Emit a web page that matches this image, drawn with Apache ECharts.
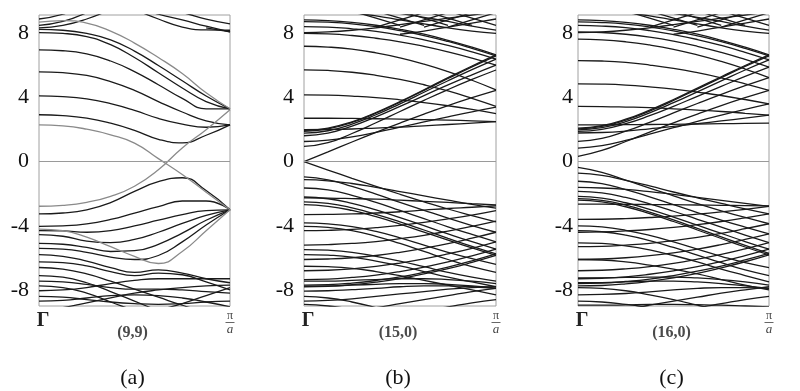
<!DOCTYPE html>
<html><head><meta charset="utf-8">
<script src="https://cdn.jsdelivr.net/npm/echarts@6/dist/echarts.min.js"></script>
<style>html,body{margin:0;padding:0;background:#fff}#c{width:800px;height:391px}</style>
</head><body><div id="c"></div>
<script>
// k points along Γ -> π/a (fraction of the zone)
const K = [0, 0.125, 0.25, 0.375, 0.5, 0.625, 0.75, 0.875, 1];
const yTicks = [-8, -4, 0, 4, 8];
const xTickText = ['Γ', 'π', 'a'];
const tubeNames = ['(9,9)', '(15,0)', '(16,0)'];
const panelTags = ['(a)', '(b)', '(c)'];

// ---- (a) armchair (9,9): energies (eV) at K ----
const a_gray = [
  [2.30, 2.24, 2.03, 1.68, 1.16, 0.19, -0.80, -1.90, -3.00],
  [-2.78, -2.72, -2.53, -2.16, -1.53, -0.50, 0.86, 2.00, 3.24],
  [8.70, 8.80, 8.65, 8.15, 7.40, 6.50, 5.50, 4.30, 3.30],
  [-4.20, -4.30, -4.70, -5.30, -5.90, -6.35, -5.60, -4.30, -3.00]
];
const a_cond = [
  [2.93, 2.88, 2.72, 2.40, 1.95, 1.40, 1.18, 1.65, 2.30],
  [4.10, 4.06, 3.92, 3.62, 3.20, 2.70, 2.35, 2.15, 2.30],
  [5.60, 5.55, 5.38, 5.00, 4.45, 3.75, 3.10, 2.55, 2.30],
  [6.97, 6.92, 6.72, 6.28, 5.62, 4.80, 3.95, 3.30, 3.30],
  [8.05, 8.00, 7.80, 7.30, 6.50, 5.55, 4.60, 3.75, 3.30],
  [8.25, 8.20, 8.00, 7.60, 6.90, 6.00, 5.05, 4.10, 3.30],
  [8.50, 8.75, 9.30, null, null, null, null, null, null],
  [8.35, 8.50, 8.90, 9.50, null, null, null, null, null],
  [8.90, 9.20, 9.80, null, null, null, null, null, null],
  [null, null, null, null, 9.70, 9.20, 8.85, 8.45, 8.10],
  [null, null, null, null, null, 9.60, 9.30, 8.90, 8.60],
  [null, null, null, null, 9.50, 8.90, 8.40, 8.22, 8.20],
  [null, null, null, null, null, null, null, 8.35, 8.10]
];
const a_val = [
  [-3.26, -3.20, -3.00, -2.55, -1.85, -1.25, -1.00, -1.80, -3.00],
  [-4.03, -4.00, -3.88, -3.60, -3.20, -2.80, -2.45, -2.45, -3.00],
  [-4.30, -4.32, -4.40, -4.30, -4.00, -3.65, -3.30, -3.05, -3.00],
  [-4.55, -4.65, -4.95, -5.05, -4.85, -4.40, -3.85, -3.35, -3.00],
  [-5.10, -5.15, -5.35, -5.60, -5.55, -5.15, -4.45, -3.65, -3.00],
  [-5.40, -5.45, -5.65, -5.95, -6.10, -5.85, -5.00, -3.95, -3.00],
  [-5.80, -5.90, -6.20, -6.60, -6.90, -6.75, -6.95, -7.30, -7.55],
  [-6.25, -6.30, -6.50, -6.85, -7.10, -6.95, -7.05, -7.50, -8.00],
  [-6.60, -6.70, -7.00, -7.45, -7.95, -8.45, -8.95, -9.40, -9.80],
  [-7.10, -7.20, -7.55, -8.10, -8.70, -9.30, -9.90, null, null],
  [-7.45, -7.50, -7.65, -7.85, -7.95, -7.95, -8.00, -8.10, -8.20],
  [-7.75, -7.85, -8.20, -8.75, -9.30, -9.90, null, null, null],
  [-8.05, -8.00, -7.85, -7.60, -7.40, -7.30, -7.30, -7.30, -7.30],
  [-8.40, -8.45, -8.60, -8.75, -8.85, -8.90, -8.85, -8.75, -8.70],
  [-8.70, -8.65, -8.50, -8.35, -8.30, -8.35, -8.50, -8.75, -9.05],
  [null, null, null, null, -9.60, -9.25, -8.85, -8.35, -7.85],
  [-9.30, -9.10, -8.80, -8.50, -8.20, -8.00, -7.85, -7.75, -7.70]
];

// ---- (b) zigzag (15,0) ----
const b_cond = [
  [0.00, 0.61, 1.23, 1.83, 2.41, 2.97, 3.50, 3.99, 4.45],
  [0.95, 1.19, 1.76, 2.43, 3.13, 3.83, 4.50, 5.13, 5.72],
  [1.26, 1.34, 1.55, 1.83, 2.15, 2.48, 2.80, 3.11, 3.40],
  [1.62, 1.78, 2.22, 2.80, 3.45, 4.12, 4.79, 5.42, 6.02],
  [1.78, 1.93, 2.35, 2.93, 3.61, 4.33, 5.05, 5.74, 6.40],
  [1.90, 2.05, 2.45, 3.03, 3.71, 4.45, 5.19, 5.91, 6.60],
  [1.95, 2.10, 2.49, 3.07, 3.75, 4.49, 5.24, 5.97, 6.66],
  [2.00, 2.01, 2.04, 2.10, 2.16, 2.24, 2.32, 2.41, 2.50],
  [2.71, 2.71, 2.70, 2.68, 2.65, 2.62, 2.59, 2.55, 2.50],
  [4.17, 4.15, 4.09, 4.00, 3.86, 3.69, 3.49, 3.26, 3.00],
  [5.73, 5.69, 5.58, 5.39, 5.13, 4.80, 4.41, 3.95, 3.45],
  [7.20, 7.15, 7.02, 6.79, 6.48, 6.09, 5.62, 5.08, 4.48],
  [8.00, 7.97, 7.87, 7.70, 7.48, 7.19, 6.85, 6.46, 6.02],
  [8.43, 8.40, 8.29, 8.13, 7.90, 7.60, 7.25, 6.85, 6.40],
  [8.74, 8.70, 8.60, 8.42, 8.17, 7.87, 7.50, 7.07, 6.60],
  [8.84, 8.80, 8.69, 8.51, 8.26, 7.95, 7.57, 7.14, 6.66],
  [9.60, 9.50, 9.30, 9.10, 8.85, 8.60, 8.35, 8.15, 8.00],
  [null, null, null, 9.50, 9.25, 9.00, 8.75, 8.45, 8.20],
  [8.05, 8.10, 8.20, 8.35, 8.55, 8.75, 8.95, 9.15, 9.35],
  [null, null, null, null, 7.95, 8.15, 8.40, 8.65, 8.90],
  [null, null, 9.40, 8.95, 8.50, null, null, null, null],
  [null, null, null, 9.40, 8.95, 8.50, null, null, null],
  [null, null, null, null, 9.40, 8.95, 8.50, null, null],
  [null, null, null, null, null, 9.40, 8.95, 8.50, null],
  [null, null, null, null, null, null, 9.40, 8.95, 8.50],
  [null, null, null, 8.40, 8.85, 9.30, null, null, null],
  [null, null, null, null, 8.40, 8.85, 9.30, null, null],
  [null, null, null, null, null, 8.40, 8.85, 9.30, null],
  [null, null, null, null, null, null, 8.40, 8.85, 9.30]
];
const b_val = [
  [0.00, -0.52, -1.04, -1.54, -2.03, -2.50, -2.95, -3.36, -3.75],
  [-0.95, -1.13, -1.54, -2.02, -2.53, -3.03, -3.52, -3.98, -4.40],
  [-1.12, -1.19, -1.36, -1.60, -1.86, -2.13, -2.40, -2.66, -2.90],
  [-1.64, -1.76, -2.10, -2.54, -3.04, -3.55, -4.06, -4.54, -5.00],
  [-2.20, -2.31, -2.60, -3.01, -3.49, -3.99, -4.50, -4.99, -5.45],
  [-2.50, -2.60, -2.88, -3.28, -3.75, -4.26, -4.78, -5.28, -5.75],
  [-2.68, -2.78, -3.04, -3.43, -3.89, -4.39, -4.89, -5.38, -5.85],
  [-2.26, -2.27, -2.30, -2.34, -2.40, -2.47, -2.54, -2.62, -2.70],
  [-3.30, -3.29, -3.26, -3.20, -3.12, -3.02, -2.92, -2.84, -2.75],
  [-4.30, -4.28, -4.22, -4.11, -3.97, -3.79, -3.57, -3.33, -3.05],
  [-5.20, -5.17, -5.10, -4.98, -4.80, -4.59, -4.33, -4.03, -3.70],
  [-6.10, -6.07, -5.99, -5.85, -5.65, -5.40, -5.11, -4.77, -4.40],
  [-6.80, -6.77, -6.68, -6.53, -6.32, -6.06, -5.75, -5.40, -5.00],
  [-7.35, -7.32, -7.22, -7.07, -6.85, -6.57, -6.25, -5.87, -5.45],
  [-7.70, -7.67, -7.57, -7.41, -7.19, -6.90, -6.57, -6.18, -5.75],
  [-7.80, -7.77, -7.67, -7.51, -7.29, -7.00, -6.67, -6.28, -5.85],
  [-3.82, -3.88, -4.05, -4.35, -4.75, -5.20, -5.65, -6.05, -6.40],
  [-4.03, -4.10, -4.30, -4.65, -5.10, -5.60, -6.10, -6.55, -6.90],
  [-5.48, -5.52, -5.65, -5.90, -6.20, -6.55, -6.90, -7.20, -7.45],
  [-5.79, -5.83, -5.95, -6.20, -6.50, -6.85, -7.20, -7.50, -7.80],
  [-6.52, -6.55, -6.65, -6.85, -7.10, -7.40, -7.70, -8.00, -8.30],
  [-7.45, -7.45, -7.40, -7.35, -7.30, -7.30, -7.35, -7.45, -7.60],
  [-7.76, -7.75, -7.70, -7.65, -7.60, -7.60, -7.65, -7.75, -7.90],
  [-8.07, -8.05, -7.98, -7.90, -7.80, -7.75, -7.75, -7.80, -7.90],
  [-8.40, -8.50, -8.75, -9.10, -9.50, null, null, null, null],
  [-8.70, -8.65, -8.55, -8.40, -8.25, -8.10, -7.95, -7.85, -7.80],
  [-9.60, -9.50, -9.30, -9.10, -8.85, -8.60, -8.35, -8.10, -7.90],
  [null, null, null, null, -9.50, -9.30, -9.05, -8.80, -8.60],
  [-8.90, -9.00, -9.20, -9.50, null, null, null, null, null]
];

// ---- (c) zigzag (16,0) ----
const c_cond = [
  [0.33, 0.70, 1.26, 1.85, 2.42, 2.97, 3.50, 3.99, 4.45],
  [0.85, 1.00, 1.33, 1.72, 2.12, 2.52, 2.90, 3.26, 3.60],
  [1.27, 1.45, 1.90, 2.45, 3.04, 3.63, 4.20, 4.74, 5.25],
  [1.79, 1.82, 1.91, 2.05, 2.20, 2.37, 2.54, 2.72, 2.90],
  [1.89, 2.02, 2.37, 2.87, 3.45, 4.08, 4.70, 5.32, 5.90],
  [1.98, 2.12, 2.50, 3.05, 3.68, 4.36, 5.04, 5.72, 6.35],
  [2.05, 2.20, 2.60, 3.16, 3.82, 4.53, 5.24, 5.94, 6.60],
  [2.10, 2.25, 2.65, 3.22, 3.88, 4.59, 5.30, 6.00, 6.66],
  [2.30, 2.30, 2.31, 2.32, 2.33, 2.35, 2.37, 2.39, 2.40],
  [3.45, 3.44, 3.41, 3.37, 3.30, 3.22, 3.13, 3.02, 2.90],
  [4.86, 4.84, 4.78, 4.67, 4.53, 4.34, 4.13, 3.88, 3.60],
  [6.31, 6.28, 6.19, 6.03, 5.82, 5.55, 5.23, 4.86, 4.45],
  [7.64, 7.60, 7.48, 7.28, 7.01, 6.66, 6.25, 5.78, 5.25],
  [8.10, 8.06, 7.95, 7.77, 7.52, 7.20, 6.82, 6.38, 5.90],
  [8.50, 8.46, 8.36, 8.18, 7.93, 7.62, 7.25, 6.82, 6.35],
  [8.72, 8.68, 8.58, 8.40, 8.16, 7.85, 7.49, 7.07, 6.60],
  [8.84, 8.80, 8.69, 8.51, 8.26, 7.95, 7.57, 7.14, 6.66],
  [9.60, 9.50, 9.30, 9.10, 8.85, 8.60, 8.35, 8.15, 8.00],
  [null, null, null, 9.50, 9.25, 9.00, 8.75, 8.45, 8.20],
  [8.05, 8.10, 8.20, 8.35, 8.55, 8.75, 8.95, 9.15, 9.35],
  [null, null, null, null, 7.95, 8.15, 8.40, 8.65, 8.90],
  [null, null, 9.40, 8.95, 8.50, null, null, null, null],
  [null, null, null, 9.40, 8.95, 8.50, null, null, null],
  [null, null, null, null, 9.40, 8.95, 8.50, null, null],
  [null, null, null, null, null, 9.40, 8.95, 8.50, null],
  [null, null, null, null, null, null, 9.40, 8.95, 8.50],
  [null, null, null, 8.40, 8.85, 9.30, null, null, null],
  [null, null, null, null, 8.40, 8.85, 9.30, null, null],
  [null, null, null, null, null, 8.40, 8.85, 9.30, null],
  [null, null, null, null, null, null, 8.40, 8.85, 9.30]
];
const c_val = [
  [-0.35, -0.66, -1.15, -1.65, -2.13, -2.61, -3.06, -3.48, -3.87],
  [-0.71, -0.85, -1.16, -1.51, -1.89, -2.25, -2.60, -2.94, -3.25],
  [-1.22, -1.37, -1.74, -2.19, -2.68, -3.17, -3.64, -4.08, -4.50],
  [-1.60, -1.64, -1.73, -1.87, -2.04, -2.22, -2.41, -2.60, -2.79],
  [-1.85, -1.95, -2.23, -2.63, -3.09, -3.59, -4.08, -4.58, -5.04],
  [-2.16, -2.27, -2.56, -2.97, -3.45, -3.96, -4.47, -4.98, -5.46],
  [-2.30, -2.41, -2.71, -3.14, -3.63, -4.16, -4.69, -5.22, -5.72],
  [-2.40, -2.51, -2.81, -3.24, -3.73, -4.26, -4.79, -5.32, -5.81],
  [-2.65, -2.65, -2.66, -2.67, -2.68, -2.70, -2.72, -2.74, -2.76],
  [-3.60, -3.59, -3.55, -3.48, -3.39, -3.27, -3.13, -2.97, -2.79],
  [-4.40, -4.38, -4.32, -4.23, -4.10, -3.93, -3.73, -3.50, -3.25],
  [-5.30, -5.28, -5.20, -5.09, -4.92, -4.72, -4.47, -4.18, -3.87],
  [-6.10, -6.07, -5.99, -5.86, -5.68, -5.45, -5.17, -4.85, -4.50],
  [-6.80, -6.77, -6.68, -6.54, -6.34, -6.08, -5.78, -5.43, -5.04],
  [-7.30, -7.27, -7.18, -7.02, -6.81, -6.55, -6.23, -5.86, -5.46],
  [-7.60, -7.57, -7.47, -7.32, -7.10, -6.83, -6.51, -6.13, -5.72],
  [-7.75, -7.72, -7.62, -7.46, -7.24, -6.96, -6.62, -6.24, -5.81],
  [-4.00, -4.07, -4.28, -4.60, -5.00, -5.45, -5.90, -6.30, -6.60],
  [-4.30, -4.37, -4.58, -4.92, -5.35, -5.82, -6.30, -6.75, -7.10],
  [-5.06, -5.10, -5.25, -5.50, -5.85, -6.25, -6.70, -7.10, -7.50],
  [-6.10, -6.13, -6.25, -6.45, -6.70, -7.00, -7.35, -7.70, -8.00],
  [-7.24, -7.24, -7.22, -7.20, -7.20, -7.25, -7.35, -7.50, -7.70],
  [-7.55, -7.54, -7.50, -7.45, -7.45, -7.50, -7.60, -7.75, -7.90],
  [-7.85, -7.90, -8.05, -8.30, -8.60, -8.95, -9.30, null, null],
  [-8.30, -8.28, -8.22, -8.12, -8.00, -7.90, -7.85, -7.85, -7.90],
  [-8.70, -8.75, -8.90, -9.10, -9.40, null, null, null, null],
  [-9.50, -9.40, -9.20, -8.95, -8.70, -8.45, -8.20, -8.00, -7.80],
  [null, null, null, -9.50, -9.30, -9.10, -8.85, -8.60, -8.40],
  [-8.95, -8.95, -8.93, -8.90, -8.90, -8.92, -8.95, -9.00, -9.05]
];

const grids = [
  {left: 39, top: 15, width: 191, height: 291},
  {left: 304, top: 15, width: 192, height: 291},
  {left: 578, top: 15, width: 191, height: 291}
];
const labelMargin = [10, 10, 5];
const serif = "'Liberation Serif', 'DejaVu Serif', serif";

const panels = [
  {bands: [...a_cond, ...a_val], gray: a_gray},
  {bands: [...b_cond, ...b_val], gray: []},
  {bands: [...c_cond, ...c_val], gray: []}
];

const series = [];
panels.forEach((p, i) => {
  const mk = (band, color, width) => ({
    type: 'line', xAxisIndex: i, yAxisIndex: i,
    data: K.map((k, j) => [k, band[j]]),
    smooth: 0.5, showSymbol: false, silent: true,
    clip: true, connectNulls: false,
    lineStyle: {color: color, width: width}
  });
  const first = mk([0, 0, 0, 0, 0, 0, 0, 0, 0], 'rgba(0,0,0,0)', 0);
  first.markLine = {silent: true, symbol: 'none', label: {show: false},
    lineStyle: {color: '#9a9a9a', width: 1, type: 'solid'}, data: [{yAxis: 0}]};
  series.push(first);
  p.bands.forEach(b => series.push(mk(b, '#1a1a1a', 1.3)));
  p.gray.forEach(b => series.push(mk(b, '#8a8a8a', 1.3)));
});

const option = {
  animation: false,
  backgroundColor: '#fff',
  grid: grids.map(g => Object.assign({show: true, borderColor: '#a0a0a0', borderWidth: 1, containLabel: false}, g)),
  xAxis: grids.map((g, i) => ({
    gridIndex: i, type: 'value', min: 0, max: 1,
    axisLine: {show: false}, axisTick: {show: false}, splitLine: {show: false},
    axisLabel: {
      customValues: [0, 1], margin: 5, color: '#222', fontFamily: serif,
      formatter: v => v === 0 ? '{g|' + xTickText[0] + '}' : '{p|' + xTickText[1] + '}\n{bar| }\n{a|' + xTickText[2] + '}',
      rich: {
        g: {fontSize: 20, fontFamily: serif, color: '#222', fontWeight: 'bold', padding: [0, 0, 0, 8]},
        p: {fontSize: 12, fontFamily: serif, color: '#444', lineHeight: 10},
        bar: {width: 9, height: 1, lineHeight: 3, backgroundColor: '#666'},
        a: {fontSize: 13, fontFamily: serif, color: '#444', fontStyle: 'italic', lineHeight: 12}
      }
    }
  })),
  yAxis: grids.map((g, i) => ({
    gridIndex: i, type: 'value', min: -9, max: 9.15,
    axisLine: {show: false}, axisTick: {show: false}, splitLine: {show: false},
    axisLabel: {customValues: yTicks, margin: labelMargin[i], color: '#111', fontSize: 22, fontFamily: serif}
  })),
  graphic: grids.flatMap((g, i) => [
    {type: 'text', x: g.left + g.width / 2 - 2, y: 333, silent: true,
     style: {text: tubeNames[i], fill: '#4a4a4a', font: "bold 16px 'Liberation Serif'", textAlign: 'center', textVerticalAlign: 'middle'}},
    {type: 'text', x: g.left + g.width / 2 - 2, y: 378, silent: true,
     style: {text: panelTags[i], fill: '#111', font: "22px 'Liberation Serif'", textAlign: 'center', textVerticalAlign: 'middle'}}
  ]),
  series: series
};

const chart = echarts.init(document.getElementById('c'), null, {renderer: 'canvas'});
chart.setOption(option);
</script></body></html>
